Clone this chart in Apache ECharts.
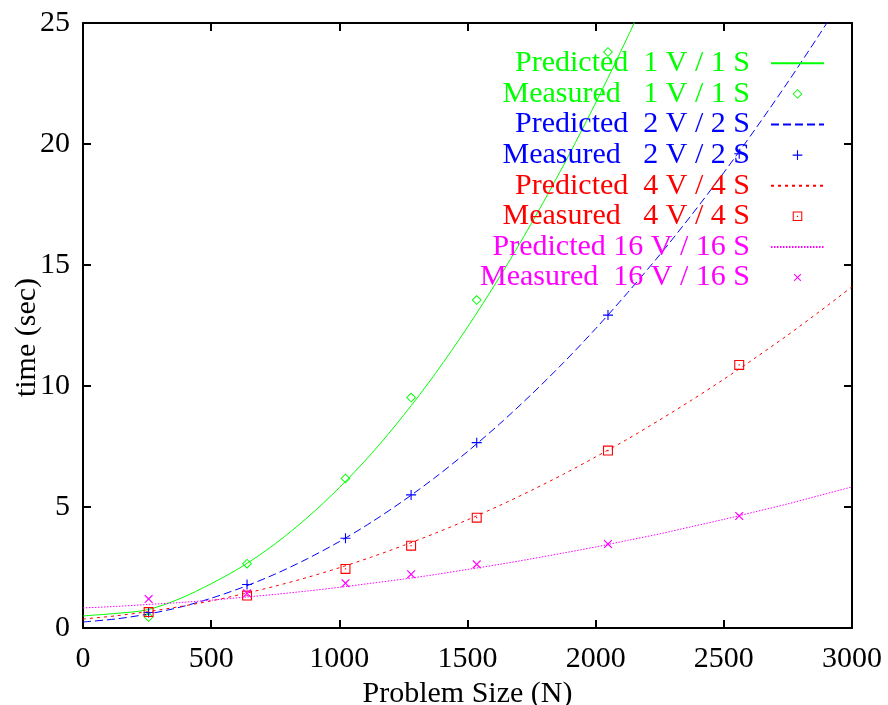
<!DOCTYPE html>
<html>
<head>
<meta charset="utf-8">
<script src="https://cdn.jsdelivr.net/npm/echarts@6/dist/echarts.min.js"></script>
<style>html,body{margin:0;padding:0;background:#fff}#c{width:888px;height:705px}</style>
</head>
<body>
<div id="c"></div>
<script>
// ---- data ----
const xTicks = [0, 500, 1000, 1500, 2000, 2500, 3000];
const yTicks = [0, 5, 10, 15, 20, 25];
const predN = [0, 125, 250, 375, 500, 625, 750, 875, 1000, 1125, 1250, 1375, 1500,
  1625, 1750, 1875, 2000, 2125, 2250, 2375, 2500, 2625, 2750, 2875, 3000];
const pred1 = [0.5, 0.6, 0.75, 1.2, 1.83, 2.57, 3.48, 4.56, 5.8, 7.2, 8.78, 10.52, 12.43,
  14.5, 16.73, 19.13, 21.7, 24.43, 27.3];
const pred2 = [0.25, 0.37, 0.57, 0.85, 1.23, 1.69, 2.23, 2.86, 3.57, 4.37, 5.26, 6.23, 7.29,
  8.43, 9.66, 10.97, 12.37, 13.86, 15.42, 17.08, 18.82, 20.65, 22.56, 24.56, 26.64];
const pred4 = [0.37, 0.5, 0.67, 0.88, 1.12, 1.41, 1.73, 2.09, 2.49, 2.93, 3.41, 3.92, 4.47,
  5.06, 5.69, 6.36, 7.07, 7.81, 8.6, 9.42, 10.28, 11.18, 12.11, 13.09, 14.1];
const pred16 = [0.83, 0.89, 0.97, 1.05, 1.15, 1.27, 1.39, 1.53, 1.68, 1.85, 2.02, 2.21, 2.42,
  2.63, 2.86, 3.1, 3.35, 3.62, 3.89, 4.19, 4.49, 4.81, 5.13, 5.48, 5.83];
const measN = [256, 640, 1024, 1280, 1536, 2048, 2560];
const meas1 = [0.45, 2.66, 6.18, 9.52, 13.55, 23.8];
const meas2 = [0.64, 1.8, 3.71, 5.5, 7.66, 12.93, 19.6];
const meas4 = [0.66, 1.34, 2.44, 3.4, 4.56, 7.33, 10.87];
const meas16 = [1.2, 1.43, 1.85, 2.22, 2.63, 3.47, 4.63];
const names = [
  'Predicted  1 V / 1 S', 'Measured   1 V / 1 S',
  'Predicted  2 V / 2 S', 'Measured   2 V / 2 S',
  'Predicted  4 V / 4 S', 'Measured   4 V / 4 S',
  'Predicted 16 V / 16 S', 'Measured  16 V / 16 S'
];
const colors = ['#00ff00', '#0000ff', '#ff0000', '#ff00ff'];

// ---- chart ----
const FONT = '"Liberation Serif", "Times New Roman", serif';
const pairs = (xs, ys) => ys.map((y, i) => [xs[i], y]);
const diamondPath = 'path://M5,0 L10,5 L5,10 L0,5 Z M5,1.3 L1.3,5 L5,8.7 L8.7,5 Z';
const plusPath = 'path://M4.45,0 L5.55,0 L5.55,4.45 L10,4.45 L10,5.55 L5.55,5.55 L5.55,10 L4.45,10 L4.45,5.55 L0,5.55 L0,4.45 L4.45,4.45 Z';
const squarePath = 'path://M0,0 L10,0 L10,10 L0,10 Z M1.1,1.1 L1.1,8.9 L8.9,8.9 L8.9,1.1 Z M4.4,4.4 L5.6,4.4 L5.6,5.6 L4.4,5.6 Z';
const dashes = [null, [8, 4], [3, 4], [1.5, 1.5]];
const predData = [pred1, pred2, pred4, pred16];
const measData = [meas1, meas2, meas4, meas16];
const symbols = [
  {symbol: diamondPath, size: 10, rotate: 0},
  {symbol: plusPath, size: 10, rotate: 0},
  {symbol: squarePath, size: 10, rotate: 0},
  {symbol: plusPath, size: 11, rotate: 45}
];

const series = [];
for (let k = 0; k < 4; k++) {
  series.push({
    name: names[2 * k], type: 'line', smooth: 0.3, symbol: 'none',
    data: pairs(predN, predData[k]), color: colors[k],
    lineStyle: {color: colors[k], width: 1, type: dashes[k] || 'solid'},
    clip: true, z: 2
  });
  series.push({
    name: names[2 * k + 1], type: 'line', data: pairs(measN, measData[k]),
    symbol: symbols[k].symbol, symbolSize: symbols[k].size, symbolRotate: symbols[k].rotate,
    showAllSymbol: true, color: colors[k],
    itemStyle: {color: colors[k]},
    lineStyle: {color: 'transparent', width: 0}, clip: true, z: 3
  });
}

const axisLine = {show: true, onZero: false, lineStyle: {color: '#000', width: 2}};
const tick = {show: true, inside: true, length: 8, lineStyle: {color: '#000', width: 2}};
const labelFmt = v => String(v);
const chart = echarts.init(document.getElementById('c'), null, {renderer: 'canvas'});
chart.setOption({
  animation: false,
  backgroundColor: '#fff',
  textStyle: {fontFamily: FONT},
  grid: {left: 83, right: 36, top: 23, bottom: 77, containLabel: false, outerBoundsMode: 'none'},
  xAxis: [{
    type: 'value', min: xTicks[0], max: xTicks[xTicks.length - 1], interval: xTicks[1] - xTicks[0],
    position: 'bottom', name: 'Problem Size (N)', nameLocation: 'middle', nameGap: 45,
    nameTextStyle: {fontFamily: FONT, fontSize: 30, color: '#000'},
    axisLine, axisTick: tick, splitLine: {show: false},
    axisLabel: {fontFamily: FONT, fontSize: 30, color: '#000', margin: 16, formatter: labelFmt}
  }, {
    type: 'value', min: xTicks[0], max: xTicks[xTicks.length - 1], interval: xTicks[1] - xTicks[0],
    position: 'top', axisLine, axisTick: tick, splitLine: {show: false}, axisLabel: {show: false}
  }],
  yAxis: [{
    type: 'value', min: yTicks[0], max: yTicks[yTicks.length - 1], interval: yTicks[1] - yTicks[0],
    position: 'left', name: 'time (sec)', nameLocation: 'middle', nameGap: 41, nameRotate: 90,
    nameMoveOverlap: false,
    nameTextStyle: {fontFamily: FONT, fontSize: 30, color: '#000', padding: [0, 24, 0, 0]},
    axisLine, axisTick: tick, splitLine: {show: false},
    axisLabel: {fontFamily: FONT, fontSize: 30, color: '#000', margin: 13, formatter: labelFmt}
  }, {
    type: 'value', min: yTicks[0], max: yTicks[yTicks.length - 1], interval: yTicks[1] - yTicks[0],
    position: 'right', axisLine, axisTick: tick, splitLine: {show: false}, axisLabel: {show: false}
  }],
  legend: {
    orient: 'vertical', align: 'right', right: 63, top: 48, padding: 0,
    itemWidth: 53, itemHeight: 12, itemGap: 0,
    data: names.map((n, i) => ({
      name: n,
      textStyle: {color: colors[Math.floor(i / 2)]},
      itemStyle: i % 2 === 0 ? {opacity: 0} : undefined
    })),
    textStyle: {fontFamily: FONT, fontSize: 30, lineHeight: 30.6, padding: [0, 16, 0, 0]},
    selectedMode: false
  },
  series
});
</script>
</body>
</html>
